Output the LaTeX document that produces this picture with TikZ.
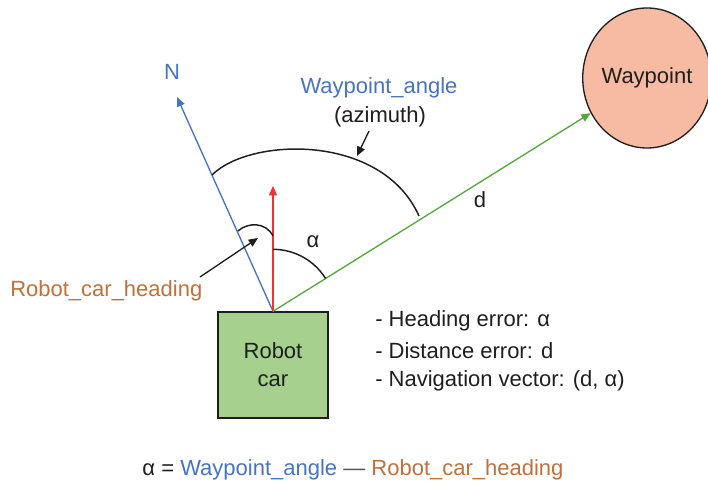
\documentclass[tikz,border=0pt]{standalone}
\usepackage{fontspec}
\setmainfont{Liberation Sans}
\usetikzlibrary{arrows.meta,shapes.geometric}
\definecolor{nblue}{HTML}{4674C0}
\definecolor{hbrown}{HTML}{C0703A}
\definecolor{dgreen}{HTML}{55A83C}
\definecolor{hred}{HTML}{F0303A}
\definecolor{boxgreen}{HTML}{A6D08E}
\definecolor{wpfill}{HTML}{F6BBA2}
\definecolor{txt}{HTML}{1E1E1E}
\begin{document}
\begin{tikzpicture}[x=0.75pt,y=0.75pt,
  every node/.style={font=\fontsize{16.5}{20}\selectfont,text=txt},
  tip/.style={-{Triangle[length=7pt,width=6pt]}},
  vec/.style={line width=1pt,tip},
  pointer/.style={line width=1pt,-{Triangle[length=7pt,width=6pt]},draw=txt},
  arcline/.style={line width=1.1pt,draw=txt}]
\useasboundingbox (0,0) rectangle (708,-488);
% robot car
\node[draw=txt,line width=1pt,fill=boxgreen,minimum width=82.5pt,minimum height=79.5pt,align=center] (car) at (273,-365) {Robot\\[1pt]car};
\coordinate (O) at (car.north);
% waypoint
\node[ellipse,draw=txt,line width=1pt,fill=wpfill,minimum width=90pt,minimum height=105pt,inner sep=0pt] (wp) at (647,-78) {Waypoint};
% vectors
\coordinate (Ntip) at (177,-97);
\coordinate (Htip) at (273,-186);
\draw[vec,color=nblue] (O) -- (Ntip);
\draw[vec,color=hred] (O) -- (Htip);
\draw[vec,color=dgreen] (O) -- (wp);
% labels
\node[text=nblue] (N) at (172,-72) {N};
\node[text=nblue] (wpa) at (379,-88) {Waypoint\_angle};
\node (az) at (380,-117) {(azimuth)};
\node (d) at (480,-200) {d};
\node (al) at (313,-242) {α};
% big arc (azimuth)
\coordinate (a1) at (212,-175);
\coordinate (a2) at (419,-216);
\draw[arcline] (a1) .. controls (250,-137) and (382,-133) .. (a2);
\coordinate (azp) at (357,-156);
\coordinate (azt) at (369,-131);
\draw[pointer] (azt) -- (azp);
% alpha arc
\draw[arcline] (O) ++(90:62) arc[start angle=90,end angle=32,radius=62];
% heading arc
\coordinate (h1) at (238,-231);
\coordinate (h2) at (273,-236);
\draw[arcline] (h1) .. controls (248,-222) and (266,-222) .. (h2);
\coordinate (hp) at (258,-238);
\coordinate (ht) at (200,-277);
\draw[pointer] (ht) -- (hp);
\node[text=hbrown,anchor=west,inner sep=0pt] (rch) at (10,-291) {Robot\_car\_heading};
% list
\node[anchor=west,inner sep=0pt] (l1) at (375,-321) {- Heading error: α};
\node[anchor=west,inner sep=0pt] (l2) at (375,-351) {- Distance error: d};
\node[anchor=west,inner sep=0pt] (l3) at (375,-381) {- Navigation vector: (d, α)};
% equation
\node (eq) at (353,-470) {α = \textcolor{nblue}{Waypoint\_angle} \textcolor{txt!75}{—} \textcolor{hbrown}{Robot\_car\_heading}};
\end{tikzpicture}
\end{document}
